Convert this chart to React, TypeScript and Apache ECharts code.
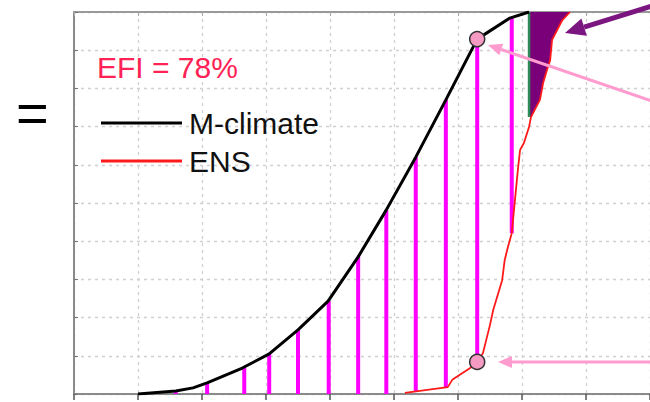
import React, { useEffect, useRef } from "react";
import * as echarts from "echarts";

// M-climate CDF (black)
const climateX = [1.0, 1.59, 1.86, 2.08, 2.63, 3.05, 3.5, 3.97, 4.44, 4.88, 5.34, 5.81, 6.3, 6.81, 7.11];
const climateY = [0, 0.008, 0.016, 0.029, 0.068, 0.105, 0.168, 0.243, 0.359, 0.482, 0.62, 0.77, 0.929, 0.984, 1.0];

// ENS CDF (red)
const ensX = [5.17, 5.84, 5.91, 6.19, 6.3, 6.39, 6.5, 6.55, 6.69, 6.73, 6.78, 6.84, 6.89, 6.94, 6.97, 7.03, 7.11, 7.14, 7.28, 7.33, 7.39, 7.44, 7.47, 7.63, 7.75];
const ensY = [0.003, 0.018, 0.037, 0.068, 0.084, 0.107, 0.181, 0.22, 0.298, 0.351, 0.385, 0.421, 0.508, 0.594, 0.639, 0.657, 0.699, 0.725, 0.77, 0.814, 0.848, 0.874, 0.927, 0.979, 1.0];

// magenta differences between the two CDFs
const stemX = [1.59, 2.08, 2.66, 3.05, 3.5, 3.98, 4.44, 4.88, 5.34, 5.81, 6.3, 6.84];
const stemTop = [0.008, 0.029, 0.068, 0.105, 0.168, 0.243, 0.359, 0.482, 0.62, 0.77, 0.929, 0.987];
const stemBottom = [0, 0, 0, 0, 0, 0, 0, 0, 0.008, 0.018, 0.084, 0.421];

// M-climate maximum (green) and the exceedance region (purple)
const climMaxX = 7.11;
const climMaxLineY = [0.725, 1.0];

// highlighted points
const markerX = [6.3, 6.3];
const markerY = [0.929, 0.084];

const efiLabel = "EFI = 78%";
const seriesNames = ["M-climate", "ENS"];

function arrow(tail: number[], tip: number[], headLen: number, headHalf: number, color: string, width: number) {
  const dx = tail[0] - tip[0];
  const dy = tail[1] - tip[1];
  const len = Math.sqrt(dx * dx + dy * dy);
  const ux = dx / len;
  const uy = dy / len;
  const bx = tip[0] + ux * headLen;
  const by = tip[1] + uy * headLen;
  const px = -uy * headHalf;
  const py = ux * headHalf;
  return [
    {
      type: "line",
      shape: { x1: tail[0], y1: tail[1], x2: bx, y2: by },
      style: { stroke: color, lineWidth: width },
      z: 10,
    },
    {
      type: "polygon",
      shape: { points: [tip, [bx + px, by + py], [bx - px, by - py]] },
      style: { fill: color },
      z: 10,
    },
  ];
}

export default function App() {
  const ref = useRef<HTMLDivElement>(null);

  useEffect(() => {
    document.body.style.margin = "0";
    const chart = echarts.init(ref.current!, null, { renderer: "svg" });

    const fillStart = ensX.findIndex((x) => x >= climMaxX + 0.02);
    const fillPts: number[][] = [[climMaxX, climMaxLineY[0]]];
    for (let i = fillStart; i < ensX.length; i++) fillPts.push([ensX[i], ensY[i]]);
    fillPts.push([climMaxX, 1.0]);

    const font = "Liberation Sans, Arial, sans-serif";
    const gridLine = { show: true, lineStyle: { color: "#d0d0d0", width: 1.3, type: [3, 4] } };

    chart.setOption({
      animation: false,
      backgroundColor: "#ffffff",
      grid: { left: 74, right: 0, top: 12, bottom: 8, containLabel: false },
      xAxis: [
        {
          type: "value",
          min: 0,
          max: 9,
          interval: 1,
          axisLine: { show: true, lineStyle: { color: "#8a8a8a", width: 2 } },
          axisTick: { show: true, length: 6, lineStyle: { color: "#555", width: 1.5 } },
          axisLabel: { show: false },
          splitLine: gridLine,
        },
        {
          type: "value",
          position: "top",
          min: 0,
          max: 9,
          interval: 1,
          axisLine: { show: true, lineStyle: { color: "#9a9a9a", width: 2 } },
          axisTick: { show: true, inside: true, length: 4, lineStyle: { color: "#aaa" } },
          axisLabel: { show: false },
          splitLine: { show: false },
        },
      ],
      yAxis: {
        type: "value",
        min: 0,
        max: 1,
        interval: 0.1,
        axisLine: { show: true, lineStyle: { color: "#8a8a8a", width: 2 } },
        axisTick: { show: true, inside: true, length: 4, lineStyle: { color: "#777" } },
        axisLabel: { show: false },
        splitLine: gridLine,
      },
      legend: {
        data: seriesNames,
        orient: "vertical",
        left: 101,
        top: 108,
        padding: 0,
        itemWidth: 81,
        itemHeight: 3,
        itemGap: 8,
        icon: "rect",
        selectedMode: false,
        textStyle: { fontSize: 30, color: "#111", fontFamily: font, padding: [0, 0, 0, 2] },
      },
      series: [
        {
          type: "custom",
          name: "diff",
          silent: true,
          data: stemX.map((x, i) => [x, stemTop[i], stemBottom[i]]),
          encode: { x: 0, y: [1, 2] },
          renderItem: (params: any, api: any) => {
            const a = api.coord([api.value(0), api.value(1)]);
            const b = api.coord([api.value(0), api.value(2)]);
            return {
              type: "line",
              shape: { x1: a[0], y1: a[1], x2: b[0], y2: b[1] },
              style: { stroke: "#ff00ff", lineWidth: 4 },
            };
          },
          z: 2,
        },
        {
          type: "custom",
          name: "exceed",
          silent: true,
          data: [[climMaxX, climMaxLineY[0]]],
          encode: { x: 0, y: 1 },
          renderItem: (params: any, api: any) => ({
            type: "polygon",
            shape: { points: fillPts.map((p) => api.coord(p)) },
            style: { fill: "#7a007a" },
          }),
          z: 2,
        },
        {
          type: "line",
          name: "climMax",
          data: climMaxLineY.map((y) => [climMaxX, y]),
          symbol: "none",
          lineStyle: { color: "#2e8b57", width: 2.5 },
          silent: true,
          z: 3,
        },
        {
          type: "line",
          name: "M-climate",
          data: climateX.map((x, i) => [x, climateY[i]]),
          symbol: "none",
          color: "#000000",
          lineStyle: { color: "#000000", width: 3 },
          silent: true,
          z: 4,
        },
        {
          type: "line",
          name: "ENS",
          data: ensX.map((x, i) => [x, ensY[i]]),
          symbol: "none",
          color: "#ff1a1a",
          lineStyle: { color: "#ff1a1a", width: 1.8 },
          silent: true,
          z: 4,
        },
        {
          type: "scatter",
          name: "points",
          data: markerX.map((x, i) => [x, markerY[i]]),
          symbol: "circle",
          symbolSize: 15,
          itemStyle: { color: "#f59ac3", borderColor: "#333", borderWidth: 1.5, opacity: 1 },
          silent: true,
          z: 5,
        },
      ],
      graphic: [
        {
          type: "text",
          left: 97,
          top: 52,
          style: { text: efiLabel, fill: "#ff2255", fontSize: 30, fontFamily: font },
          z: 10,
        },
        {
          type: "text",
          left: 16,
          top: 84,
          style: { text: "=", fill: "#000", fontSize: 56, fontFamily: font },
          z: 10,
        },
        ...arrow([655, 5], [565, 33], 20, 9, "#7b1580", 5),
        ...arrow([655, 102], [488, 45], 14, 6, "#ff9ccf", 3),
        ...arrow([655, 362], [498, 362], 14, 6, "#ff9ccf", 3),
      ],
    });

    return () => chart.dispose();
  }, []);

  return <div ref={ref} style={{ width: 650, height: 402 }} />;
}
